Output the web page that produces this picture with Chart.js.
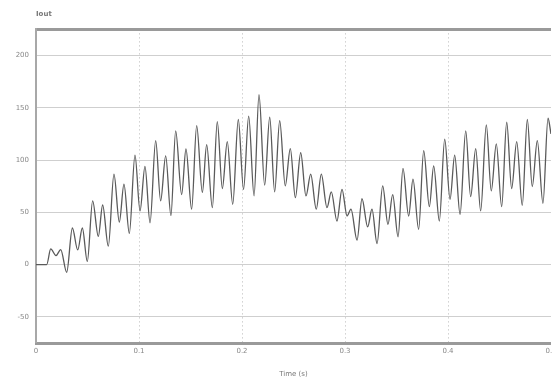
<!DOCTYPE html>
<html lang="en">
<head>
  <meta charset="UTF-8" />
  <title>Iout</title>
  <script src="https://cdn.jsdelivr.net/npm/chart.js"></script>
  <style>
    body {
      margin: 0;
      background: #fff;
    }
    canvas {
      display: block;
    }
  </style>
</head>
<body>
  <canvas id="ioutChart" width="552" height="378"></canvas>

  <script>
    // peaks and troughs (time in s, current)
    const timeS = [
      0, 0.0104, 0.0143, 0.0194, 0.024, 0.0298, 0.0353, 0.0405, 0.045, 0.0498,
      0.055, 0.0605, 0.0647, 0.0702, 0.0757, 0.0809, 0.0854, 0.0906, 0.0961, 0.101,
      0.1058, 0.1107, 0.1162, 0.121, 0.1259, 0.131, 0.1356, 0.1414, 0.1456, 0.1511,
      0.156, 0.1615, 0.1657, 0.1712, 0.176, 0.1809, 0.1857, 0.191, 0.1964, 0.2015,
      0.2065, 0.2117, 0.2165, 0.222, 0.2269, 0.2317, 0.2366, 0.242, 0.2469, 0.2518,
      0.257, 0.2621, 0.2667, 0.2721, 0.277, 0.2825, 0.2867, 0.2922, 0.2971, 0.302,
      0.3058, 0.3117, 0.3165, 0.322, 0.3262, 0.3311, 0.3366, 0.3417, 0.3463, 0.3515,
      0.3563, 0.3618, 0.366, 0.3715, 0.3764, 0.3819, 0.3861, 0.3916, 0.3968, 0.402,
      0.4065, 0.4117, 0.4172, 0.422, 0.4269, 0.4317, 0.4372, 0.442, 0.4469, 0.4521,
      0.457, 0.4618, 0.4667, 0.4721, 0.477, 0.4818, 0.4867, 0.4922, 0.4971, 0.5
    ];
    const iout = [
      0, 0, 15, 8.6, 14.4, -7.4, 35, 14, 35, 3,
      61, 27, 57, 17.6, 86.5, 40.7, 77, 29.8, 104.8, 51.3,
      94, 40, 118.6, 61, 104, 47, 128, 67, 110.6, 53,
      133, 69, 114.7, 54.5, 136.8, 72.8, 117.6, 57.7, 138.8, 72,
      142, 65.7, 162.5, 76, 141, 69.5, 137.8, 75.3, 111, 64,
      107, 65.7, 86.5, 53, 86.5, 54.5, 69.5, 41.7, 72, 46.5,
      53, 23.4, 63, 36, 53, 20.2, 75.3, 38.5, 67, 26.6,
      92, 46.5, 81.7, 33.7, 109, 55.5, 94.5, 41.7, 120, 62.5,
      104.8, 48, 128, 65, 111, 51.3, 133.6, 70.5, 115.4, 55.5,
      136.2, 72.8, 117.6, 56.7, 138.8, 74.7, 118.6, 58.7, 140, 125
    ];
    const yTicks = [-75, -50, 0, 50, 100, 150, 200, 225];
    const yLabels = ['', '-50', '0', '50', '100', '150', '200', ''];

    const tickFont = { family: 'DejaVu Sans', size: 7 };

    const ctx = document.getElementById('ioutChart').getContext('2d');
    new Chart(ctx, {
      type: 'line',
      data: {
        datasets: [{
          label: 'Iout',
          data: timeS.map((t, i) => ({ x: t, y: iout[i] })),
          borderColor: '#5a5a5a',
          borderWidth: 1.3,
          pointRadius: 0,
          fill: false,
          cubicInterpolationMode: 'monotone'
        }]
      },
      options: {
        responsive: false,
        animation: false,
        layout: { padding: { left: 0, right: 1, top: 0, bottom: 0 } },
        plugins: {
          legend: { display: false },
          tooltip: { enabled: false },
          title: {
            display: true,
            text: 'Iout',
            align: 'start',
            fullSize: false,
            color: '#777',
            font: tickFont,
            padding: { top: 10, bottom: 11 }
          }
        },
        scales: {
          x: {
            type: 'linear',
            min: 0,
            max: 0.5,
            ticks: {
              stepSize: 0.1,
              color: '#888',
              font: tickFont,
              padding: 4,
              maxRotation: 0,
              callback: v => String(+v.toFixed(1))
            },
            grid: {
              drawTicks: false,
              color: '#b8b8b8',
              lineWidth: c => (c.tick && (c.tick.value === 0 || c.tick.value === 0.5)) ? 0 : 1
            },
            // in v4 the dash here styles the grid lines, not the axis line
            border: { color: '#9a9a9a', width: 3, dash: [1, 3] },
            title: {
              display: true,
              text: 'Time (s)',
              color: '#777',
              font: tickFont,
              padding: { top: 6, bottom: 0 }
            },
            afterFit: s => { s.height = 35; s.paddingLeft = 0; s.paddingRight = 0; }
          },
          y: {
            min: -75,
            max: 225,
            afterBuildTicks: s => { s.ticks = yTicks.map(v => ({ value: v })); },
            ticks: {
              color: '#888',
              font: tickFont,
              padding: 7,
              callback: (v, i) => yLabels[i]
            },
            grid: {
              drawTicks: false,
              color: c => (c.tick && c.tick.value === 225) ? '#9a9a9a' : '#cfcfcf',
              lineWidth: c => {
                if (!c.tick) return 1;
                if (c.tick.value === 225) return 3;
                if (c.tick.value === -75) return 0;
                return 1;
              }
            },
            border: { color: '#a8a8a8', width: 2 },
            afterFit: s => { s.width = 36; s.paddingTop = 0; s.paddingBottom = 0; }
          }
        }
      }
    });
  </script>
</body>
</html>
